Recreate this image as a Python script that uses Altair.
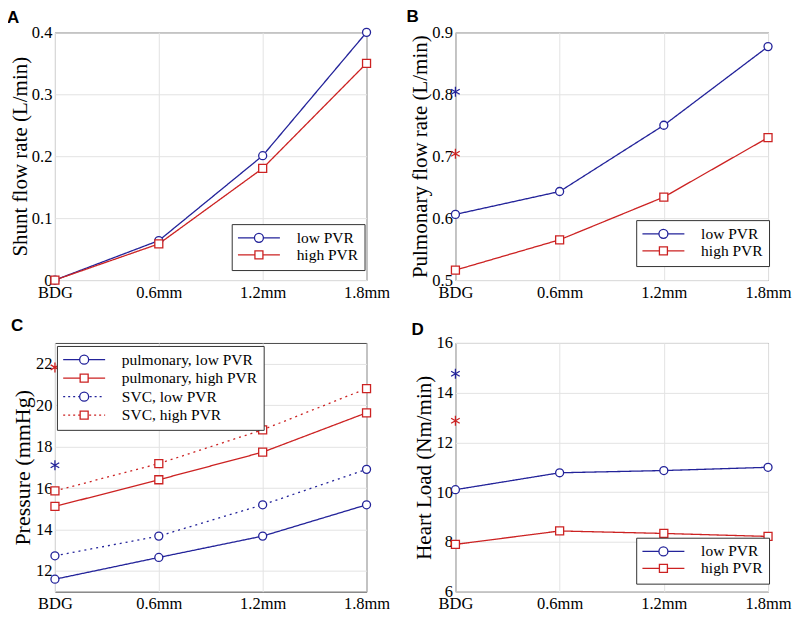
import altair as alt
import pandas as pd

# ---------------- data ----------------
conditions = ["BDG", "0.6mm", "1.2mm", "1.8mm"]

# Panel A: shunt flow rate (L/min)
a_series = ["low PVR", "high PVR"]
a_low = [0.0, 0.0637, 0.2008, 0.400]
a_high = [0.0, 0.0584, 0.1804, 0.350]

# Panel B: pulmonary flow rate (L/min)
b_series = ["low PVR", "high PVR"]
b_low = [0.606, 0.643, 0.750, 0.877]
b_high = [0.516, 0.565, 0.634, 0.730]
b_star_series = ["low PVR", "high PVR"]
b_star_values = [0.804, 0.704]

# Panel C: pressure (mmHg)
c_series = ["pulmonary, low PVR", "pulmonary, high PVR", "SVC, low PVR", "SVC, high PVR"]
c_pulm_low = [11.6, 12.65, 13.68, 15.19]
c_pulm_high = [15.11, 16.4, 17.73, 19.63]
c_svc_low = [12.73, 13.68, 15.19, 16.9]
c_svc_high = [15.86, 17.18, 18.81, 20.8]
c_star_series = ["SVC, high PVR", "SVC, low PVR"]
c_star_values = [21.82, 17.1]

# Panel D: heart load (Nm/min)
d_series = ["low PVR", "high PVR"]
d_low = [10.1, 10.78, 10.87, 11.0]
d_high = [7.9, 8.44, 8.34, 8.22]
d_star_series = ["low PVR", "high PVR"]
d_star_values = [14.76, 12.87]

# ---------------- styles ----------------
BLUE = "#23239a"
RED = "#cc2222"
SERIF = "Liberation Serif"


def dots(x0, x1, dash=2.0, gap=3.0):
    s = ""
    x = x0
    while x < x1 - 0.5:
        e = min(x + dash, x1)
        s += f"M{x:.1f},0H{e:.1f}"
        x += dash + gap
    return s


CIRC = "M-4.5,0A4.5,4.5 0 1,0 4.5,0A4.5,4.5 0 1,0 -4.5,0"
SQR = "M-4,-4H4V4H-4Z"
LEG_CIRCLE_SOLID = "M-21,0H-4.5M4.5,0H21" + CIRC
LEG_SQUARE_SOLID = "M-21,0H-4M4,0H21" + SQR
LEG_CIRCLE_DOT = dots(-21, -4.5) + dots(5.5, 21) + CIRC
LEG_SQUARE_DOT = dots(-21, -4) + dots(5, 21) + SQR
ASTERISK = "M0,-5V5M-4.3,-2.5L4.3,2.5M-4.3,2.5L4.3,-2.5"


def make_panel(letter, series_names, series_values, star_series, star_values,
               ydomain, yticks, ytitle, title_size, legend_x, legend_y, row_pad,
               width, height, letter_x, letter_y):
    rows = []
    for name, vals in zip(series_names, series_values):
        for c, v in zip(conditions, vals):
            rows.append({"condition": c, "series": name, "value": v})
    df = pd.DataFrame(rows)

    colors = [BLUE if "low" in n else RED for n in series_names]
    paths = []
    for n in series_names:
        low = "low" in n
        dotted = n.startswith("SVC")
        if dotted:
            paths.append(LEG_CIRCLE_DOT if low else LEG_SQUARE_DOT)
        else:
            paths.append(LEG_CIRCLE_SOLID if low else LEG_SQUARE_SOLID)

    color_scale = alt.Scale(domain=series_names, range=colors)

    x = alt.X("condition:O", sort=conditions,
              scale=alt.Scale(type="point", padding=0),
              axis=alt.Axis(title=None, labelAngle=0, grid=True, domain=False,
                            ticks=False, labelPadding=4))
    y = alt.Y("value:Q", scale=alt.Scale(domain=ydomain, nice=False, zero=False),
              axis=alt.Axis(title=ytitle, values=yticks, format="~f", grid=True,
                            domain=False, ticks=False, labelPadding=3,
                            titlePadding=1, titleFontSize=title_size))

    legend = alt.Legend(
        title=None, orient="none", legendX=legend_x, legendY=legend_y,
        strokeColor="#333333", fillColor="white", padding=6, cornerRadius=0,
        symbolSize=4, symbolStrokeWidth=1.3, symbolOpacity=1,
        symbolOffset=13.5, labelOffset=30, rowPadding=row_pad,
        labelFont=SERIF, labelFontSize=15.5, labelColor="black", labelLimit=0,
    )

    # invisible, tiny layer that only carries the legend (line + marker symbols)
    legend_layer = alt.Chart(df).mark_point(opacity=0, filled=False, size=0.01).encode(
        x=x, y=y,
        color=alt.Color("series:N", scale=color_scale, legend=legend),
        shape=alt.Shape("series:N", scale=alt.Scale(domain=series_names, range=paths),
                        legend=legend),
    )
    lines = alt.Chart(df).mark_line(strokeWidth=1.3).encode(
        x=x, y=y,
        color=alt.Color("series:N", scale=color_scale, legend=None),
        strokeDash=alt.condition("indexof(datum.series, 'SVC') >= 0",
                                 alt.value([2, 4]), alt.value([1, 0])),
    )
    points = alt.Chart(df).mark_point(filled=False, fill="white", fillOpacity=1,
                                      size=64, strokeWidth=1.3, opacity=1).encode(
        x=x, y=y,
        color=alt.Color("series:N", scale=color_scale, legend=None),
        shape=alt.condition("indexof(datum.series, 'low') >= 0",
                            alt.value("circle"), alt.value("square")),
    )
    layers = [legend_layer, lines, points]
    if star_series:
        sdf = pd.DataFrame({"condition": [conditions[0]] * len(star_series),
                            "series": star_series, "value": star_values})
        stars = alt.Chart(sdf).mark_point(shape=ASTERISK, size=4, strokeWidth=1.3,
                                          filled=False, opacity=1).encode(
            x=x, y=y,
            color=alt.Color("series:N", scale=color_scale, legend=None),
        )
        layers.append(stars)

    label = alt.Chart(pd.DataFrame({"panel": [letter]})).mark_text(
        font="Liberation Sans", fontSize=17, fontWeight="bold", color="black",
        align="left", baseline="alphabetic",
    ).encode(x=alt.value(letter_x), y=alt.value(letter_y), text="panel:N")
    layers.append(label)

    return alt.layer(*layers).properties(width=width, height=height)


A = make_panel("A", a_series, [a_low, a_high], [], [], [0, 0.4],
               [0, 0.1, 0.2, 0.3, 0.4], "Shunt flow rate (L/min)", 21,
               177, 192, -1, 312, 248, -48, -9)
B = make_panel("B", b_series, [b_low, b_high], b_star_series, b_star_values,
               [0.5, 0.9], [0.5, 0.6, 0.7, 0.8, 0.9], "Pulmonary flow rate (L/min)", 21,
               181, 188, -1, 313, 248, -49, -10)
C = make_panel("C", c_series, [c_pulm_low, c_pulm_high, c_svc_low, c_svc_high],
               c_star_series, c_star_values, [11, 23], [12, 14, 16, 18, 20, 22],
               "Pressure (mmHg)", 22, 2, 3, 1.5, 312, 249, -44, -12)
D = make_panel("D", d_series, [d_low, d_high], d_star_series, d_star_values,
               [6, 16], [6, 8, 10, 12, 14, 16], "Heart Load (Nm/min)", 21,
               181, 195, -1, 313, 249, -44, -8)

chart = alt.concat(
    A, B, C, D, columns=2, bounds="flush",
    spacing={"row": 63, "column": 89},
).resolve_scale(
    color="independent", shape="independent",
).resolve_legend(
    color="independent", shape="independent",
).properties(
    padding={"left": -2, "top": -1, "right": 0, "bottom": 0},
    background="white",
).configure_view(
    stroke="#4a4a4a", strokeWidth=1,
).configure_axis(
    labelFont=SERIF, labelFontSize=16.5, labelColor="black",
    titleFont=SERIF, titleFontSize=21, titleFontWeight="normal", titleColor="black",
    gridColor="#e3e3e3", gridWidth=1,
)

chart.save("out.html", embed_options={"renderer": "svg", "actions": False})
